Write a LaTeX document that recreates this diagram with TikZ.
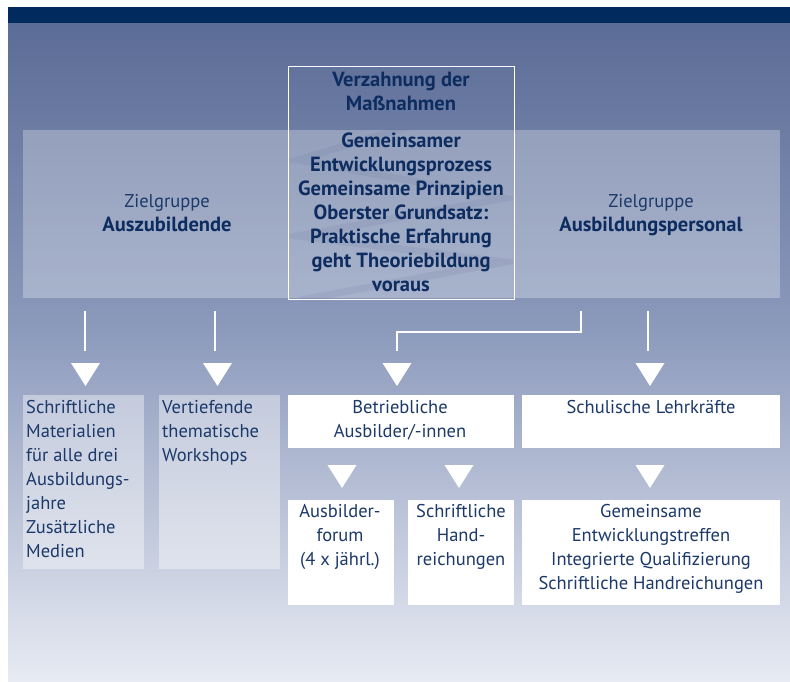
\documentclass[tikz,border=0pt]{standalone}
\usepackage{fontspec}
\setmainfont{PT Sans}
\usetikzlibrary{calc}
\definecolor{barblue}{HTML}{012A5E}
\definecolor{bgA}{HTML}{5B6C96}
\definecolor{bgB}{HTML}{8C9ABC}
\definecolor{bgC}{HTML}{E8EBF3}
\definecolor{navy}{HTML}{0D2C5F}
\definecolor{txtblue}{HTML}{1C396A}
\newcommand\downtri[2]{\fill[white] (#1-14.5,#2) -- (#1+14.5,#2) -- (#1,#2+23) -- cycle;}
\newcommand\bigbold{\fontsize{20.5}{24}\selectfont\bfseries}
\tikzset{
  txtbase/.style={inner sep=0pt, font=\fontsize{18.5}{24}\selectfont},
  rt/.style={txtbase, text=txtblue, align=center, anchor=base},
  rtl/.style={txtbase, text=txtblue, align=left, anchor=base west},
  bt/.style={txtbase, text=navy, align=center, anchor=base, font=\bigbold},
  boxbase/.style={inner sep=0pt, anchor=north west},
  lbox/.style={boxbase, fill=white, fill opacity=0.4},
  wbox/.style={boxbase, fill=white},
  conn/.style={draw=white, line width=2pt},
}
\begin{document}
\begin{tikzpicture}[x=1pt,y=-1pt]
\useasboundingbox (0,0) rectangle (790,682);
\fill[white] (0,0) rectangle (790,682);
\shade[top color=bgA,bottom color=bgB] (8,23) rectangle (790,330.5);
\shade[top color=bgB,bottom color=bgC] (8,330) rectangle (790,682);
\fill[barblue] (8,7) rectangle (790,23);
% band
\node[boxbase, fill=white, fill opacity=0.28, minimum width=757pt, minimum height=168pt] (band) at (23,130) {};
% interlocking zigzag
\begin{scope}
\clip (289,130) rectangle (513,298);
\draw[line width=7pt, bgA, opacity=0.12, line join=miter] (410,126) -- (298,160) -- (505,198) -- (298,236) -- (505,262) -- (300,300);
\end{scope}
% central box
\node[boxbase, draw=white, line width=1.2pt, minimum width=226pt, minimum height=233pt] (mid) at (288,66) {};
\node[bt] (midtitle) at (401,111) {Verzahnung der\\Maßnahmen};
\node[bt] (midtext) at (401,291) {Gemeinsamer\\Entwicklungsprozess\\Gemeinsame Prinzipien\\Oberster Grundsatz:\\Praktische Erfahrung\\geht Theoriebildung\\voraus};
\node[rt] (zielA) at (167,231) {Zielgruppe\\{\bigbold\color{navy}Auszubildende}};
\node[rt] (zielP) at (651,231) {Zielgruppe\\{\bigbold\color{navy}Ausbildungspersonal}};
% boxes
\node[lbox, minimum width=121pt, minimum height=174pt] (b1) at (23,395) {};
\node[lbox, minimum width=121pt, minimum height=174pt] (b2) at (159,395) {};
\node[wbox, minimum width=226pt, minimum height=53pt] (b3) at (288,395) {};
\node[wbox, minimum width=258pt, minimum height=53pt] (b4) at (522,395) {};
\node[wbox, minimum width=106pt, minimum height=105pt] (b5) at (288,500) {};
\node[wbox, minimum width=106pt, minimum height=105pt] (b6) at (408,500) {};
\node[wbox, minimum width=258pt, minimum height=105pt] (b7) at (522,500) {};
% box texts (anchor = baseline of last line)
\node[rtl] (t1) at (26,557) {Schriftliche\\Materialien\\für alle drei\\Ausbildungs-\\jahre\\Zusätzliche\\Medien};
\node[rtl] (t2) at (162,461) {Vertiefende\\thematische\\Workshops};
\node[rt] (t3) at (400,437) {Betriebliche\\Ausbilder/-innen};
\node[rt] (t4) at (651,413) {Schulische Lehrkräfte};
\node[rt] (t5) at (340,565) {Ausbilder-\\forum\\(4 x jährl.)};
\node[rt] (t6) at (461,565) {Schriftliche\\Hand-\\reichungen};
\node[rt] (t7) at (651,589) {Gemeinsame\\Entwicklungstreffen\\Integrierte Qualifizierung\\Schriftliche Handreichungen};
% connectors
\coordinate (c1a) at (85,311);  \coordinate (c1b) at (85,351);
\coordinate (c2a) at (215,311); \coordinate (c2b) at (215,351);
\coordinate (c3a) at (581,311); \coordinate (c3b) at (397,351);
\coordinate (c4a) at (648,311); \coordinate (c4b) at (648,351);
\draw[conn] (c1a) -- (c1b);
\draw[conn] (c2a) -- (c2b);
\draw[conn, line join=miter] (c3a) -- (581,332) -- (397,332) -- (c3b);
\draw[conn] (c4a) -- (c4b);
\downtri{85.5}{363}
\downtri{217.5}{363}
\downtri{397}{363}
\downtri{650}{363}
\downtri{342}{465}
\downtri{459}{465}
\downtri{650}{465}
\end{tikzpicture}
\end{document}
